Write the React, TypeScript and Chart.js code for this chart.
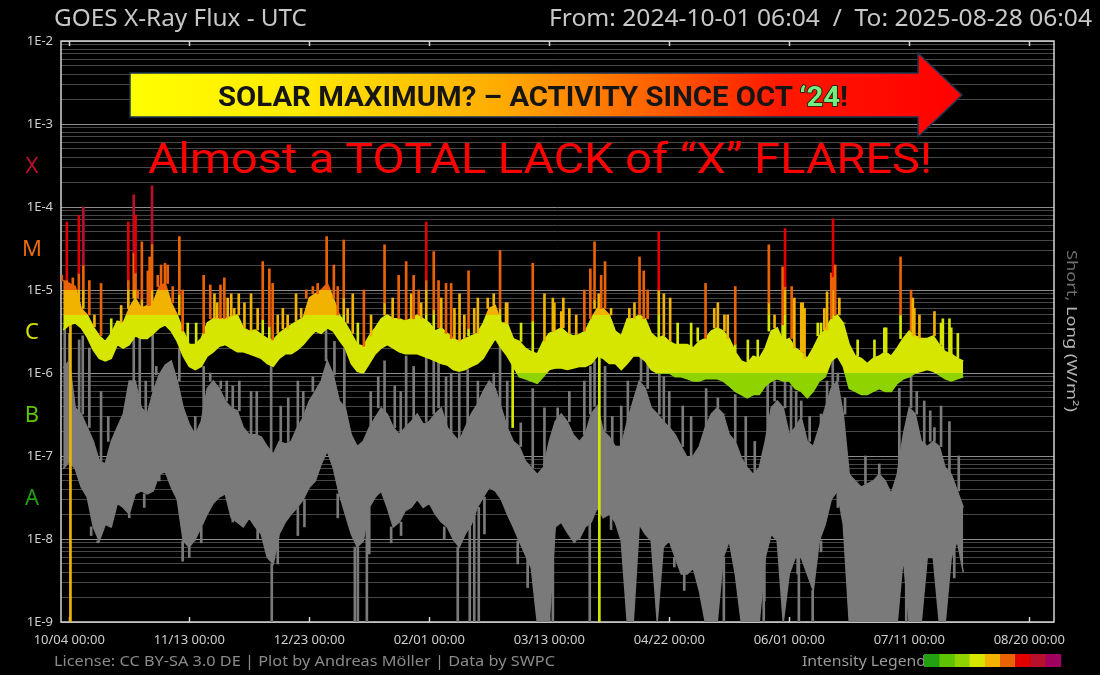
import React, { useEffect, useRef } from 'react';
import { Chart, registerables } from 'chart.js';

Chart.register(...registerables);

// ---------- DATA (days since 10/04 00:00 UTC; flux in W/m²) ----------
const binStart = -2;
const binStep = 2;

// GOES long channel (0.1-0.8 nm): lower / upper envelope of the background band per 2-day bin
const longLow = [
  3.3e-6, 3.8e-6, 4e-6, 3.5e-6, 2.7e-6, 1.9e-6, 1.5e-6, 1.4e-6, 1.5e-6, 2.2e-6,
  2e-6, 2.2e-6, 2.8e-6, 2.6e-6, 2.6e-6, 3e-6, 3.5e-6, 3.8e-6, 3.2e-6, 2.4e-6,
  1.6e-6, 1.2e-6, 1.1e-6, 1.2e-6, 1.6e-6, 1.8e-6, 2.1e-6, 2.2e-6, 2e-6, 1.8e-6,
  1.8e-6, 1.7e-6, 1.6e-6, 1.5e-6, 1.3e-6, 1.2e-6, 1.5e-6, 1.7e-6, 1.7e-6, 1.9e-6,
  2.2e-6, 2.7e-6, 3.2e-6, 3e-6, 3.5e-6, 3.2e-6, 2.5e-6, 2e-6, 1.3e-6, 1.05e-6,
  1e-6, 1.3e-6, 1.7e-6, 2e-6, 2.2e-6, 2e-6, 1.8e-6, 1.7e-6, 1.7e-6, 1.7e-6,
  1.6e-6, 1.5e-6, 1.4e-6, 1.3e-6, 1.25e-6, 1.1e-6, 1.05e-6, 1.1e-6, 1.2e-6, 1.3e-6,
  1.5e-6, 2e-6, 2.6e-6, 2e-6, 1.6e-6, 1.2e-6, 9e-7, 8.5e-7, 8e-7, 7.5e-7,
  9e-7, 1.1e-6, 1.15e-6, 1.15e-6, 1.1e-6, 1.15e-6, 1.2e-6, 1.2e-6, 1.3e-6, 1.6e-6,
  1.5e-6, 1.3e-6, 1.3e-6, 1.1e-6, 1.3e-6, 1.6e-6, 1.6e-6, 1.4e-6, 1.1e-6, 1e-6,
  1e-6, 1e-6, 9e-7, 9e-7, 8.5e-7, 8e-7, 8e-7, 8.5e-7, 8.5e-7, 8.5e-7,
  8e-7, 7e-7, 6e-7, 5.5e-7, 5e-7, 5.5e-7, 5.5e-7, 7e-7, 8e-7, 8.5e-7,
  8e-7, 8e-7, 6.5e-7, 6e-7, 5e-7, 6e-7, 8e-7, 9e-7, 1.4e-6, 1.6e-6,
  1.2e-6, 6.5e-7, 6e-7, 5.5e-7, 5.5e-7, 6e-7, 6.5e-7, 6e-7, 6e-7, 7.5e-7,
  8.5e-7, 9e-7, 1e-6, 1.05e-6, 1.1e-6, 1.05e-6, 9.5e-7, 8.5e-7, 8e-7, 8.5e-7,
  9e-7,
];
const longHigh = [
  1.3e-5, 1.2e-5, 1.1e-5, 6e-6, 5e-6, 3.6e-6, 2.8e-6, 2.4e-6, 3e-6, 4.2e-6,
  4e-6, 6e-6, 8e-6, 6e-6, 6.5e-6, 7e-6, 1.1e-5, 1.2e-5, 7e-6, 5e-6,
  3.2e-6, 2.2e-6, 2.2e-6, 2.6e-6, 4e-6, 4.5e-6, 4.5e-6, 4.5e-6, 4.8e-6, 5e-6,
  3.5e-6, 3.2e-6, 3.3e-6, 2.9e-6, 2.6e-6, 2.5e-6, 3e-6, 3.4e-6, 3.8e-6, 4.2e-6,
  4.6e-6, 8e-6, 9e-6, 1e-5, 1.2e-5, 8e-6, 5e-6, 4e-6, 3e-6, 2.2e-6,
  2.1e-6, 2.8e-6, 3.5e-6, 4.5e-6, 5e-6, 4.5e-6, 4.5e-6, 4.2e-6, 4.5e-6, 5e-6,
  4.5e-6, 4e-6, 3.2e-6, 3.5e-6, 3e-6, 2.6e-6, 2.4e-6, 2.6e-6, 2.8e-6, 3e-6,
  4e-6, 6e-6, 6.5e-6, 4e-6, 4e-6, 2.6e-6, 2.4e-6, 2e-6, 1.8e-6, 1.7e-6,
  2.4e-6, 3e-6, 3.2e-6, 3.5e-6, 3e-6, 2.8e-6, 2.9e-6, 3.2e-6, 4.5e-6, 6e-6,
  6e-6, 5e-6, 3.2e-6, 2.8e-6, 4.5e-6, 4.5e-6, 5e-6, 4.5e-6, 3e-6, 2.6e-6,
  2.8e-6, 2.4e-6, 2.2e-6, 2.2e-6, 2.2e-6, 2e-6, 2.4e-6, 2.6e-6, 3.2e-6, 3.5e-6,
  3.2e-6, 2.6e-6, 1.8e-6, 1.4e-6, 1.3e-6, 1.6e-6, 1.5e-6, 2e-6, 3.2e-6, 3.5e-6,
  2.4e-6, 2.6e-6, 2e-6, 1.8e-6, 1.5e-6, 2e-6, 2.8e-6, 3.3e-6, 4.5e-6, 5e-6,
  4e-6, 2.2e-6, 1.6e-6, 1.5e-6, 1.3e-6, 1.5e-6, 1.6e-6, 1.8e-6, 1.6e-6, 2e-6,
  2.6e-6, 3.2e-6, 2.8e-6, 2.6e-6, 2.6e-6, 2.8e-6, 2.2e-6, 1.8e-6, 1.7e-6, 1.5e-6,
  1.4e-6,
];
// GOES short channel (0.05-0.4 nm): lower / upper envelope per 2-day bin
const shortLow = [
  7e-8, 8.5e-8, 7e-8, 4.2e-8, 3.2e-8, 1.4e-8, 9.5e-9, 1.5e-8, 1.4e-8, 2.7e-8,
  2.4e-8, 2e-8, 3.5e-8, 3.8e-8, 3.5e-8, 3.8e-8, 6e-8, 6.5e-8, 4.2e-8, 3e-8,
  9.5e-9, 8e-9, 1e-8, 1.4e-8, 2e-8, 2.7e-8, 3.2e-8, 3.5e-8, 1.8e-8, 1.6e-8,
  1.4e-8, 1.8e-8, 1.4e-8, 1.15e-8, 6e-9, 5e-9, 1.15e-8, 1.6e-8, 2e-8, 2.4e-8,
  3e-8, 4.2e-8, 5e-8, 8e-8, 1.15e-7, 7.2e-8, 3.5e-8, 2e-8, 1.15e-8, 8e-9,
  9.5e-9, 2.4e-8, 3.2e-8, 3.8e-8, 2.4e-8, 1.4e-8, 1.6e-8, 2.2e-8, 2.4e-8, 3e-8,
  2.4e-8, 2.7e-8, 2e-8, 1.6e-8, 1.4e-8, 1e-8, 8e-9, 1.15e-8, 1.5e-8, 2.4e-8,
  3.2e-8, 4.2e-8, 3.8e-8, 3e-8, 2e-8, 1.4e-8, 9.5e-9, 6.5e-9, 4.5e-9, 1e-9,
  1e-9, 1e-9, 1.4e-8, 1.6e-8, 1.2e-8, 9.5e-9, 1e-8, 1.4e-8, 1.6e-8, 2.4e-8,
  1.8e-8, 2e-8, 1.6e-8, 9.5e-9, 1e-9, 1e-9, 1.5e-8, 1.15e-8, 9.5e-9, 1e-9,
  8e-9, 9.5e-9, 6e-9, 3.8e-9, 3.8e-9, 4.5e-9, 2.4e-9, 1e-9, 1e-9, 1e-9,
  6e-9, 9.5e-9, 3.8e-9, 1e-9, 1e-9, 1e-9, 1e-9, 6e-9, 1.15e-8, 9.5e-9,
  1e-9, 3.8e-9, 6e-9, 6e-9, 3.8e-9, 2.4e-9, 9.5e-9, 1.5e-8, 3e-8, 3.8e-8,
  1.5e-8, 1e-9, 1e-9, 1e-9, 1e-9, 1e-9, 1e-9, 1e-9, 1e-9, 1e-9,
  6e-9, 1e-9, 1e-9, 1e-9, 6e-9, 6e-9, 1e-9, 1e-9, 6e-9, 9.5e-9,
  4e-9,
];
const shortHigh = [
  1.15e-6, 1.4e-6, 3.8e-7, 3.2e-7, 2.2e-7, 1.5e-7, 8.7e-8, 8e-8, 1.5e-7, 2.2e-7,
  3.2e-7, 8e-7, 8e-7, 3.8e-7, 3.2e-7, 6e-7, 9.5e-7, 1.25e-6, 1.4e-6, 8e-7,
  3.8e-7, 2.4e-7, 1.8e-7, 2.6e-7, 6.5e-7, 8e-7, 6.5e-7, 4.6e-7, 3.8e-7, 3.5e-7,
  2.2e-7, 1.8e-7, 1.8e-7, 1.7e-7, 1.3e-7, 1.05e-7, 1.5e-7, 1.4e-7, 1.5e-7, 2.2e-7,
  2.9e-7, 4.6e-7, 6e-7, 8e-7, 1.4e-6, 9.5e-7, 4.6e-7, 3.8e-7, 1.8e-7, 1.3e-7,
  1.5e-7, 2.2e-7, 2.9e-7, 3.8e-7, 3.2e-7, 2.2e-7, 1.8e-7, 2.2e-7, 2.6e-7, 3.2e-7,
  2.4e-7, 2.6e-7, 3.2e-7, 3.8e-7, 2.2e-7, 1.8e-7, 1.5e-7, 2.2e-7, 3.2e-7, 4.2e-7,
  6e-7, 8e-7, 6.5e-7, 3.8e-7, 2.2e-7, 1.5e-7, 1.3e-7, 8.7e-8, 7.2e-8, 6e-8,
  7.2e-8, 1.5e-7, 2.6e-7, 3.2e-7, 2.6e-7, 1.8e-7, 1.5e-7, 1.8e-7, 3.2e-7, 4e-7,
  2e-7, 1.7e-7, 1.3e-7, 1.3e-7, 2.6e-7, 4.6e-7, 8e-7, 6.5e-7, 3.8e-7, 3.2e-7,
  2.6e-7, 2.2e-7, 1.8e-7, 1.3e-7, 9.5e-8, 1e-7, 1.3e-7, 2.2e-7, 3.2e-7, 3.8e-7,
  3.2e-7, 1.8e-7, 1.5e-7, 9.5e-8, 7.2e-8, 6e-8, 7.2e-8, 1.5e-7, 3.8e-7, 4.6e-7,
  3.8e-7, 1.8e-7, 2.2e-7, 2.9e-7, 1.5e-7, 1.3e-7, 2.2e-7, 3.8e-7, 6.5e-7, 8e-7,
  3.2e-7, 6e-8, 5e-8, 4.2e-8, 4.6e-8, 5e-8, 6e-8, 5e-8, 3.5e-8, 6e-8,
  1.8e-7, 3.8e-7, 3.2e-7, 1.5e-7, 1.3e-7, 1.5e-7, 1.3e-7, 7.2e-8, 6e-8, 3.8e-8,
  2.4e-8,
];

// Long-channel flare peaks: [day, peak flux]
const longFlares: [number, number][] = [
  [-2.5, 1.5e-5], [-0.8, 6.6e-5], [1.2, 1.4e-5], [3.2, 7.9e-5], [4.7, 1e-4], [6.7, 1.3e-5],
  [8.4, 5e-6], [10.6, 1.2e-5], [14, 4.5e-6], [17.3, 6.5e-6], [19.7, 6.6e-5], [21.5, 1.4e-4],
  [22.1, 8e-5], [22.8, 1e-5], [24.2, 3.8e-5], [26.2, 1.7e-5], [26.8, 2.5e-5], [27.6, 1.8e-4],
  [29.5, 1.5e-5], [30.6, 2e-5], [31.9, 2.1e-5], [32.8, 2e-5], [34.5, 1.1e-5], [36.7, 4.4e-5],
  [37.8, 1e-5], [39.5, 4e-6], [42.3, 4e-6], [44.8, 1.5e-5], [47, 1.15e-5], [48.4, 9e-6],
  [49.3, 7e-6], [50.4, 1.15e-5], [51.7, 1.4e-5], [52.8, 8e-6], [54, 9e-6], [55, 6e-6], [56.5, 9e-6],
  [58.4, 7e-6], [60.6, 9e-6], [62.8, 6e-6], [64.5, 2.2e-5], [66.7, 1.8e-5], [67.8, 1.2e-5],
  [69.5, 5e-6], [71.2, 6e-6], [72.8, 5e-6], [75.6, 9e-6], [77.3, 6e-6], [79, 1e-5], [81.2, 1.1e-5],
  [82.8, 1.2e-5], [85.8, 4.4e-5], [88.2, 2e-5], [89.5, 1.1e-5], [91.5, 4e-5], [92.8, 6e-6],
  [94.5, 9e-6], [96.2, 4e-6], [98.2, 1e-5], [100.6, 5e-6], [105.1, 3.5e-5], [107.8, 8e-6],
  [109.8, 1.5e-5], [112.3, 2.2e-5], [114, 9e-6], [114.8, 1.5e-5], [116.5, 1e-5],
  [117.3, 7e-6], [119, 6.6e-5], [121.5, 2.9e-5], [123.1, 1.3e-5], [124, 8e-6], [125.6, 1.2e-5],
  [127.3, 1.2e-5], [128.4, 6e-6], [130.1, 9e-6], [131.7, 5e-6], [133.1, 1.7e-5], [135, 6e-6],
  [136.2, 8e-6], [139.5, 8e-6], [141.5, 9e-6], [143.6, 3e-5], [145.6, 7e-6], [146, 7e-6],
  [150.6, 4e-6], [154.5, 2.1e-5], [158.4, 9e-6], [161.2, 8e-6], [161.7, 7e-6], [164, 5.5e-6],
  [164.7, 8e-6], [166.7, 6e-6], [169, 5e-6], [171.7, 1e-5], [173.7, 1.8e-5], [175.1, 3.8e-5],
  [176.5, 9e-6],
  [177.3, 1.5e-5], [178.6, 2.2e-5], [180.6, 6e-6], [186.7, 6e-6], [188.4, 7e-6], [190.1, 2.5e-5],
  [191.5, 1.7e-5], [192.8, 1e-5], [196.5, 5e-5], [198.2, 9e-6], [200.3, 8e-6], [202.8, 4e-6],
  [207.3, 4e-6], [209.5, 3.5e-6], [212.1, 1.2e-5], [215, 6e-6], [216.2, 7e-6], [218.4, 5e-6],
  [219.5, 5e-6], [222, 1.1e-5], [226.2, 2.5e-6], [229.5, 2.5e-6], [233.2, 3.5e-5], [235.1, 5e-6],
  [237.8, 1.9e-5], [238.6, 5.5e-5], [240.8, 1.1e-5], [241.7, 8e-6], [244, 7e-6], [244.5, 7e-6],
  [245.1, 6e-6], [249.5, 4e-6], [250.6, 4e-6], [251.7, 6e-6], [252.6, 9.5e-6], [254, 1.6e-5],
  [254.6, 7.2e-5], [255.3, 2e-5], [256.7, 8e-6], [258.4, 4e-6], [262.8, 2.5e-6], [268.4, 2.5e-6],
  [271.7, 3.5e-6], [272.3, 3.5e-6], [277.1, 2.5e-5], [280.6, 1e-5], [281.2, 8e-6], [281.7, 6e-6],
  [283.4, 5e-6], [288.4, 5.5e-6], [290.6, 4e-6], [291.2, 4.5e-6], [293.4, 4.5e-6], [294, 3.5e-6],
  [296.2, 3e-6],
];
// Long-channel data dropouts: [day, flux before drop, lowest flux]
const longDrops: [number, number, number][] = [
  [0.4, 6e-6, 1e-9], [147.8, 2.5e-6, 2.2e-7], [176.7, 3e-6, 1e-9],
];
// Short-channel spikes: [day, peak flux]
const shortSpikes: [number, number][] = [
  [-1.5, 3.5e-6], [0, 3e-6], [3.3, 2.5e-6], [4.5, 2.8e-6], [6.7, 2e-6], [10.6, 6e-7], [13, 3e-7],
  [21.5, 2.6e-6], [23.5, 3e-6], [25.5, 8e-7], [27.8, 3e-6], [29, 1.2e-6], [36.7, 2e-6], [42, 3e-7],
  [44.8, 1.2e-6], [47, 1e-6], [50.5, 8e-7], [52.5, 8e-7], [54.5, 7e-7],
  [56.7, 8e-7], [60.6, 6e-7], [62.5, 6e-7], [67.3, 1.25e-6], [70.5, 4e-7], [73, 5e-7], [76.2, 8e-7],
  [78, 6e-7], [81.2, 9e-7], [85.6, 3.8e-6], [88.4, 2.4e-6], [91.7, 2e-6], [100.5, 6e-7], [103, 9e-7],
  [105.1, 1.4e-6], [108.5, 7e-7], [110.5, 6e-7], [112.3, 1.6e-6], [114.8, 1.2e-6],
  [119, 1.7e-6], [121.5, 2.9e-6], [123.1, 1.4e-6], [125.6, 9e-7], [127.3, 1e-6], [130, 1e-6],
  [132.8, 1.1e-6], [136.2, 8e-7], [141.5, 1e-6], [143.6, 2.4e-6], [146, 8e-7], [150.5, 2.5e-7],
  [154.5, 6.5e-7], [158.4, 3.8e-7], [162.8, 3.8e-7], [166.7, 6e-7], [171.7, 8e-7], [173.7, 1.2e-6],
  [175.1, 1.4e-6],
  [178.6, 1.2e-6], [181, 3e-7], [184, 4e-7], [186.2, 8e-7], [190.6, 2.9e-6], [192.8, 1.4e-6],
  [196.7, 1e-6], [198.2, 9e-7], [200, 6e-7], [204.5, 4e-7], [207.3, 3e-7], [212.3, 6.5e-7],
  [216.2, 5e-7], [218.4, 3.2e-7], [222, 5.5e-7], [225.5, 3e-7], [228.5, 1.5e-7], [232.8, 1.05e-6],
  [235.1, 8e-7],
  [238.6, 1.15e-6], [240.6, 7e-7], [242.3, 6e-7], [244, 4.6e-7], [246.8, 3e-7], [250.6, 3.2e-7],
  [252.6, 8e-7], [254.5, 2e-6], [256.2, 1e-6], [258.6, 5e-7], [262.8, 5e-8], [265.4, 1e-7],
  [270, 8e-8], [276.7, 6.5e-7], [280.6, 9.5e-7], [282.5, 6e-7], [285, 4.6e-7], [287, 3.5e-7],
  [288.4, 2.2e-7], [290.6, 4e-7], [293.4, 2.6e-7], [296.5, 1e-7],
];
// Short-channel dips below the band: [day, lowest flux]
const shortDips: [number, number][] = [
  [7.3, 1.1e-8], [9.5, 9e-9], [13.4, 1.4e-8], [20, 1.8e-8], [25, 2.4e-8], [30, 5e-8], [37.8, 5.4e-9],
  [40, 6e-9], [41.7, 9.5e-9], [44, 9e-9], [54.5, 1.6e-8], [62.8, 1e-8], [69.5, 5e-9], [76.2, 1.1e-8],
  [78.4, 1.4e-8], [89.5, 1.8e-8], [100, 6.6e-9], [107.3, 9e-9], [110.6, 1.1e-8], [125, 1e-8],
  [128.4, 9.5e-9], [138.4, 1.15e-8], [149.5, 5e-9], [152.8, 2.6e-9], [168.4, 9e-9], [180.6, 1.3e-8],
  [201.7, 4.6e-9], [205, 2.4e-9], [231.7, 1.8e-9], [242.8, 3.8e-9], [250.6, 7e-9], [256.2, 2.4e-8],
  [279, 3.8e-9], [286.2, 6e-9], [295, 3.4e-9],
];
// Short-channel single dropouts to the floor: days
const shortDrops = [67.5, 95.2, 96.2, 99.2, 129.5, 133.5, 135, 136.5, 161.2, 173.5, 218.2, 231.5, 243.2, 247.8];

const xTickDays = [0, 40, 80, 120, 160, 200, 240, 280, 320];
const xTickLabels = ['10/04 00:00', '11/13 00:00', '12/23 00:00', '02/01 00:00', '03/13 00:00', '04/22 00:00', '06/01 00:00', '07/11 00:00', '08/20 00:00'];
const xMin = -2.75; // 2024-10-01 06:04
const xMax = 328.25; // 2025-08-28 06:04
const yMin = 1e-9;
const yMax = 1e-2;

// Flare-class intensity scale (legend)
const levelBounds = [1e-7, 5e-7, 1e-6, 5e-6, 1e-5, 5e-5, 1e-4, 5e-4];
const levelColors = ['#22a012', '#5cc400', '#8fd400', '#d6e600', '#f2b200', '#ea6206', '#e00000', '#b8102c', '#a0005e'];
const classLetters = [
  { label: 'X', color: '#c0102e' },
  { label: 'M', color: '#ea6a10' },
  { label: 'C', color: '#d2e000' },
  { label: 'B', color: '#5cc400' },
  { label: 'A', color: '#22a012' },
];

// ---------- helpers ----------
const binDays = longLow.map((_, i) => binStart + i * binStep);
const nb = (d: number) => Math.max(0, Math.min(binDays.length - 1, Math.round((d - binStart) / binStep)));
const levelColor = (v: number) => {
  let i = 0;
  while (i < levelBounds.length && v >= levelBounds[i]) i++;
  return levelColors[i];
};
const isDecade = (v: number) => Math.abs(Math.log10(v) - Math.round(Math.log10(v))) < 1e-6;
const yTickValues: number[] = (() => {
  const out: number[] = [];
  for (let e = -9; e <= -3; e++) for (let m = 1; m <= 9; m++) out.push(m * Math.pow(10, e));
  out.push(1e-2);
  return out;
})();

const gradCache = new WeakMap<any, { key: string; g: CanvasGradient }>();
function fluxGradient(chart: any) {
  const { chartArea, scales, ctx } = chart;
  const y = scales && scales.y;
  if (!chartArea || !y) return levelColors[3];
  const key = `${y.top}|${y.bottom}`;
  const c = gradCache.get(chart);
  if (c && c.key === key) return c.g;
  const h = y.bottom - y.top;
  const g = ctx.createLinearGradient(0, y.bottom, 0, y.top);
  let prev = 0;
  levelBounds.forEach((b, i) => {
    const off = Math.min(1, Math.max(0, (y.bottom - y.getPixelForValue(b)) / h));
    g.addColorStop(prev, levelColors[i]);
    g.addColorStop(off, levelColors[i]);
    prev = off;
  });
  g.addColorStop(prev, levelColors[levelColors.length - 1]);
  g.addColorStop(1, levelColors[levelColors.length - 1]);
  gradCache.set(chart, { key, g });
  return g;
}

const framePlugin = {
  id: 'goesFrame',
  beforeDraw(chart: any) {
    const { ctx, width, height } = chart;
    ctx.save();
    ctx.fillStyle = '#000';
    ctx.fillRect(0, 0, width, height);
    ctx.restore();
  },
  beforeDatasetsDraw(chart: any) {
    const { ctx, chartArea: a, scales } = chart;
    ctx.save();
    ctx.strokeStyle = '#d4d4d4';
    ctx.lineWidth = 1.5;
    ctx.strokeRect(a.left, a.top, a.right - a.left, a.bottom - a.top);
    xTickDays.forEach((d) => {
      const px = Math.round(scales.x.getPixelForValue(d)) + 0.5;
      ctx.beginPath();
      ctx.moveTo(px, a.top);
      ctx.lineTo(px, a.top + 5);
      ctx.moveTo(px, a.bottom);
      ctx.lineTo(px, a.bottom - 5);
      ctx.stroke();
    });
    ctx.restore();
  },
};

const GRAY = '#7a7a7a';
const FONT = '"Noto Sans", "DejaVu Sans", sans-serif';

export default function App() {
  const canvasRef = useRef<HTMLCanvasElement | null>(null);

  useEffect(() => {
    document.body.style.margin = '0';
    document.body.style.background = '#000';
    const canvas = canvasRef.current;
    if (!canvas) return;

    const pts = (arr: number[]) => arr.map((v, i) => ({ x: binDays[i], y: v }));

    const flareTop = longFlares.map(([d, p]) => ({ x: d, y: [Math.max(longHigh[nb(d)], p / 5), p] }));
    const flareTopColors = longFlares.map(([, p]) => levelColor(p));
    const flareLow = longFlares
      .filter(([d, p]) => p / 5 > longHigh[nb(d)])
      .map(([d, p]) => ({ x: d, y: [longHigh[nb(d)], p / 5] }));
    const drops = longDrops.map(([d, from, to]) => ({ x: d, y: [to, from] }));
    const dropColors = longDrops.map(([, from]) => levelColor(from));
    const sSpikes = shortSpikes.map(([d, p]) => ({ x: d, y: [shortHigh[nb(d)], p] }));
    const sDips = shortDips.map(([d, v]) => ({ x: d, y: [v, shortLow[nb(d)]] }));
    const sDrops = shortDrops.map((d) => ({ x: d, y: [yMin, shortLow[nb(d)]] }));

    const grad = (ctx: any) => fluxGradient(ctx.chart);
    const barBase = { type: 'bar', grouped: false, barThickness: 2, borderWidth: 0 } as any;

    const chart = new Chart(canvas, {
      type: 'line',
      data: {
        datasets: [
          { ...barBase, label: 'flare tops', data: flareTop, backgroundColor: flareTopColors },
          { ...barBase, label: 'flare rise', data: flareLow, backgroundColor: grad },
          {
            label: 'Long', data: pts(longHigh), borderColor: grad, backgroundColor: grad,
            borderWidth: 1.5, fill: '+1', pointRadius: 0, tension: 0,
          },
          { label: 'Long low', data: pts(longLow), borderColor: grad, borderWidth: 1.5, fill: false, pointRadius: 0, tension: 0 },
          { ...barBase, label: 'long drops', data: drops, backgroundColor: dropColors },
          { ...barBase, label: 'short spikes', data: sSpikes, backgroundColor: GRAY },
          { ...barBase, label: 'short dips', data: sDips, backgroundColor: GRAY },
          { ...barBase, label: 'short drops', data: sDrops, backgroundColor: GRAY },
          {
            label: 'Short', data: pts(shortHigh), borderColor: GRAY, backgroundColor: GRAY,
            borderWidth: 1.5, fill: '+1', pointRadius: 0, tension: 0,
          },
          { label: 'Short low', data: pts(shortLow), borderColor: GRAY, borderWidth: 1.5, fill: false, pointRadius: 0, tension: 0 },
        ] as any,
      },
      options: {
        animation: false,
        responsive: false,
        devicePixelRatio: 1,
        events: [],
        layout: { padding: { left: 0, top: 41, right: 46, bottom: 0 } },
        plugins: { legend: { display: false }, tooltip: { enabled: false }, title: { display: false } },
        scales: {
          x: {
            type: 'linear',
            min: xMin,
            max: xMax,
            offset: false,
            afterFit: (s: any) => { s.height = 53; },
            afterBuildTicks: (s: any) => { s.ticks = xTickDays.map((v) => ({ value: v })); },
            ticks: {
              autoSkip: false,
              maxRotation: 0,
              padding: 2,
              color: '#cfcfcf',
              font: { family: FONT, size: 13 },
              callback: (_v: any, i: number) => xTickLabels[i],
            },
            grid: { display: false },
            border: { display: false },
          },
          y: {
            type: 'logarithmic',
            min: yMin,
            max: yMax,
            afterFit: (s: any) => { s.width = 61; },
            afterBuildTicks: (s: any) => { s.ticks = yTickValues.map((v) => ({ value: v, major: isDecade(v) })); },
            ticks: {
              autoSkip: false,
              padding: 8,
              color: '#cfcfcf',
              font: { family: FONT, size: 13 },
              callback: (v: any) => (isDecade(Number(v)) ? '1E' + Math.round(Math.log10(Number(v))) : ''),
            },
            grid: {
              drawTicks: false,
              color: (c: any) => (c.tick && isDecade(c.tick.value) ? '#8c8c8c' : '#474747'),
              lineWidth: 1,
            },
            border: { display: false },
          },
        },
      } as any,
      plugins: [framePlugin],
    });
    return () => chart.destroy();
  }, []);

  const legendX0 = 924;
  const legendW = 15.2;

  return (
    <div style={{ position: 'fixed', left: 0, top: 0, width: 1100, height: 675, background: '#000', overflow: 'hidden' }}>
      <canvas ref={canvasRef} width={1100} height={675} style={{ display: 'block', width: 1100, height: 675 }} />
      <svg width={1100} height={675} style={{ position: 'absolute', left: 0, top: 0, pointerEvents: 'none' }}>
        <defs>
          <linearGradient id="arrowGrad" gradientUnits="userSpaceOnUse" x1={130} y1={0} x2={962} y2={0}>
            <stop offset="0" stopColor="#ffff00" />
            <stop offset="0.2" stopColor="#ffea00" />
            <stop offset="0.45" stopColor="#ffaa00" />
            <stop offset="0.63" stopColor="#ff6000" />
            <stop offset="0.78" stopColor="#ff1800" />
            <stop offset="1" stopColor="#ff0000" />
          </linearGradient>
        </defs>

        <text x={54} y={26} fontFamily={FONT} fontSize={23} fill="#c8c8c8" textLength={253} lengthAdjust="spacingAndGlyphs">
          GOES X-Ray Flux - UTC
        </text>
        <text x={1092} y={26} textAnchor="end" fontFamily={FONT} fontSize={23} fill="#c8c8c8" textLength={543}
          lengthAdjust="spacingAndGlyphs" style={{ whiteSpace: 'pre' }}>
          {'From: 2024-10-01 06:04  /  To: 2025-08-28 06:04'}
        </text>

        {classLetters.map((c, i) => (
          <text key={c.label} x={32} y={173 + i * 83} textAnchor="middle" fontFamily={FONT} fontSize={22} fill={c.color}>
            {c.label}
          </text>
        ))}

        <text transform="translate(1067,250) rotate(90)" fontFamily={FONT} fontSize={14} textLength={162} lengthAdjust="spacingAndGlyphs">
          <tspan fill="#6e6e6e">Short,</tspan>
          <tspan fill="#b4b4b4"> Long (W/m²)</tspan>
        </text>

        <text x={54} y={666} fontFamily={FONT} fontSize={15} fill="#8a8a8a" textLength={501} lengthAdjust="spacingAndGlyphs">
          License: CC BY-SA 3.0 DE | Plot by Andreas Möller | Data by SWPC
        </text>
        <text x={802} y={666} fontFamily={FONT} fontSize={15} fill="#9a9a9a" textLength={124} lengthAdjust="spacingAndGlyphs">
          Intensity Legend
        </text>
        {levelColors.map((c, i) => (
          <rect key={c} x={legendX0 + i * legendW} y={654} width={legendW + 0.4} height={13} fill={c} />
        ))}

        <polygon points="130,73 918,73 918,53 962,95 918,137 918,117 130,117" fill="url(#arrowGrad)" stroke="#1d3550" strokeWidth={1.5} />
        <text x={218} y={106} fontFamily="Roboto, 'Noto Sans', sans-serif" fontWeight={700} fontSize={27} fill="#151515"
          textLength={630} lengthAdjust="spacingAndGlyphs">
          {'SOLAR MAXIMUM? – ACTIVITY SINCE OCT '}
          <tspan fill="#74ee80" stroke="#0b220b" strokeWidth={1.6} style={{ paintOrder: 'stroke' }}>‘24</tspan>
          <tspan>!</tspan>
        </text>
        <text x={148} y={173} fontFamily="Roboto, 'Noto Sans', sans-serif" fontWeight={400} fontSize={43} fill="#ff0000"
          textLength={784} lengthAdjust="spacingAndGlyphs">
          Almost a TOTAL LACK of “X” FLARES!
        </text>
      </svg>
    </div>
  );
}
